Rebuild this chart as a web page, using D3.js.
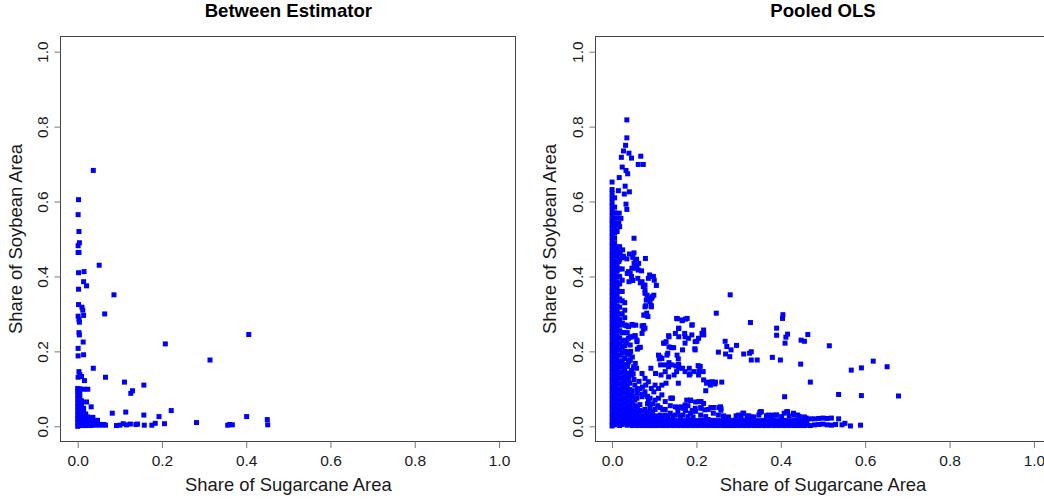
<!DOCTYPE html>
<html><head><meta charset="utf-8">
<script src="https://cdn.jsdelivr.net/npm/d3@7"></script>
<style>body{margin:0;background:#fff}svg{display:block}text{font-family:"Liberation Sans",Arial,sans-serif}</style>
</head><body><svg id="c" width="1044" height="499"></svg>
<script>
const tickValues = [0, 0.2, 0.4, 0.6, 0.8, 1.0];
const tickLabels = ["0.0", "0.2", "0.4", "0.6", "0.8", "1.0"];
const panelTitles = ["Between Estimator", "Pooled OLS"];
const xTitle = "Share of Sugarcane Area";
const yTitle = "Share of Soybean Area";

// Between estimator: scattered points
const betweenScatter = [
[0.037,0.683],[0.002,0.605],[0.001,0.565],[0.003,0.520],[0.004,0.490],[0.001,0.482],[0.001,0.464],[0.003,0.464],
[0.051,0.430],[0.015,0.413],[0.002,0.410],[0.014,0.386],[0.021,0.375],[0.002,0.366],[0.086,0.351],[0.002,0.325],
[0.010,0.318],[0.012,0.310],[0.064,0.300],[0.014,0.296],[0.001,0.294],[0.003,0.285],[0.004,0.278],[0.003,0.250],
[0.004,0.244],[0.013,0.225],[0.208,0.220],[0.406,0.245],[0.001,0.208],[0.014,0.191],[0.001,0.188],[0.314,0.177],
[0.037,0.155],[0.003,0.146],[0.005,0.138],[0.009,0.133],[0.001,0.131],[0.066,0.131],[0.016,0.122],[0.111,0.118],
[0.157,0.110],[0.130,0.095],[0.126,0.088],[0.015,0.099],[0.024,0.099],[0.021,0.065],[0.032,0.052],[0.082,0.035],
[0.114,0.038],[0.157,0.030],[0.222,0.042],[0.193,0.026],[0.401,0.026],[0.450,0.018],[0.451,0.004],[0.282,0.010],
[0.356,0.003],[0.361,0.005],[0.367,0.004],[0.206,0.007],[0.184,0.008],[0.176,0.003],[0.158,0.003],[0.138,0.005],
[0.142,0.006],[0.125,0.006],[0.116,0.004],[0.108,0.007],[0.100,0.003],[0.092,0.002],[0.062,0.005],[0.054,0.005]
];
// Between estimator: dense cluster near the origin
const betweenCluster = [
[0,0.000],[0,0.010],[0,0.020],[0,0.030],[0,0.041],[0,0.052],[0,0.062],[0,0.073],[0,0.083],[0,0.094],[0,0.101],
[0.005,0.003],[0.005,0.014],[0.005,0.025],[0.005,0.036],[0.005,0.047],[0.005,0.058],[0.005,0.069],[0.005,0.080],[0.005,0.091],[0.005,0.100],
[0.009,0.002],[0.009,0.013],[0.009,0.024],[0.009,0.035],[0.009,0.046],[0.009,0.057],[0.009,0.068],
[0.014,0.004],[0.014,0.015],[0.014,0.026],[0.014,0.037],[0.014,0.048],
[0.019,0.002],[0.019,0.012],[0.019,0.023],[0.019,0.033],
[0.024,0.003],[0.024,0.014],[0.024,0.025],
[0.030,0.002],[0.030,0.012],[0.030,0.022],
[0.036,0.004],[0.036,0.014],[0.036,0.024],
[0.042,0.003],[0.042,0.013],[0.047,0.005],[0.047,0.016],
[0.053,0.003],[0.060,0.004],[0.066,0.003]
];

// Pooled OLS: dense column at small sugarcane share
const pooledColumn = [
[0,0.652],[0,0.632],[0,0.622],[0,0.610],[0,0.598],[0,0.587],[0,0.575],[0,0.563],[0,0.551],[0,0.540],[0,0.528],[0,0.516],
[0,0.504],[0,0.492],[0,0.480],[0,0.468],[0,0.456],[0,0.444],[0,0.432],[0,0.420],[0,0.408],[0,0.396],[0,0.384],[0,0.372],
[0,0.360],[0,0.348],[0,0.336],[0,0.324],[0,0.312],[0,0.300],[0,0.288],[0,0.276],[0,0.264],[0,0.252],[0,0.240],[0,0.228],
[0,0.216],[0,0.204],[0,0.192],[0,0.180],[0,0.168],[0,0.156],[0,0.144],[0,0.132],[0,0.120],[0,0.108],[0,0.096],[0,0.084],
[0,0.072],[0,0.060],[0,0.048],[0,0.036],[0,0.024],[0,0.012],[0,0.001],
[0.006,0.610],[0.006,0.585],[0.006,0.570],[0.006,0.556],[0.006,0.543],[0.006,0.530],[0.006,0.517],[0.006,0.503],[0.006,0.490],
[0.006,0.478],[0.006,0.466],[0.006,0.454],[0.006,0.441],[0.006,0.429],[0.006,0.417],[0.006,0.404],[0.006,0.392],[0.006,0.380],
[0.006,0.368],[0.006,0.355],[0.006,0.343],[0.006,0.331],[0.006,0.319],[0.006,0.306],[0.006,0.294],[0.006,0.282],[0.006,0.270],
[0.006,0.258],[0.006,0.245],[0.006,0.233],[0.006,0.221],[0.006,0.209],[0.006,0.197],[0.006,0.185],[0.006,0.172],[0.006,0.160],
[0.006,0.148],[0.006,0.136],[0.006,0.124],[0.006,0.112],[0.006,0.100],[0.006,0.088],[0.006,0.076],[0.006,0.064],[0.006,0.052],
[0.006,0.040],[0.006,0.028],[0.006,0.016],[0.006,0.004],
[0.012,0.556],[0.012,0.540],[0.012,0.520],[0.012,0.470],[0.012,0.455],[0.012,0.440],[0.012,0.428],[0.012,0.414],[0.012,0.400],
[0.012,0.386],[0.012,0.373],[0.012,0.360],[0.012,0.347],[0.012,0.334],[0.012,0.320],[0.012,0.307],[0.012,0.294],[0.012,0.281],
[0.012,0.268],[0.012,0.255],[0.012,0.242],[0.012,0.229],[0.012,0.216],[0.012,0.203],[0.012,0.190],[0.012,0.177],[0.012,0.164],
[0.012,0.151],[0.012,0.138],[0.012,0.125],[0.012,0.112],[0.012,0.099],[0.012,0.086],[0.012,0.073],[0.012,0.060],[0.012,0.047],
[0.012,0.034],[0.012,0.021],[0.012,0.008],
[0.018,0.533],[0.018,0.479],[0.018,0.462],[0.018,0.445],[0.018,0.420],[0.018,0.400],[0.018,0.380],[0.018,0.360],[0.018,0.340],
[0.018,0.318],[0.018,0.300],[0.018,0.285],[0.018,0.270],[0.018,0.255],[0.018,0.236],[0.018,0.220],[0.018,0.205],[0.018,0.190],
[0.018,0.172],[0.018,0.158],[0.018,0.143],[0.018,0.128],[0.018,0.113],[0.018,0.098],[0.018,0.084],[0.018,0.070],[0.018,0.056],
[0.018,0.042],[0.018,0.028],[0.018,0.014],[0.018,0.002],
[0.024,0.450],[0.024,0.420],[0.024,0.390],[0.024,0.360],[0.024,0.335],[0.024,0.300],[0.024,0.275],[0.024,0.250],[0.024,0.228],
[0.024,0.212],[0.024,0.195],[0.024,0.175],[0.024,0.160],[0.024,0.145],[0.024,0.130],[0.024,0.116],[0.024,0.102],[0.024,0.088],
[0.024,0.074],[0.024,0.060],[0.024,0.046],[0.024,0.032],[0.024,0.018],[0.024,0.005],
[0.030,0.330],[0.030,0.310],[0.030,0.290],[0.030,0.270],[0.030,0.250],[0.030,0.230],[0.030,0.215],[0.030,0.200],[0.030,0.181],
[0.030,0.165],[0.030,0.150],[0.030,0.135],[0.030,0.118],[0.030,0.104],[0.030,0.090],[0.030,0.076],[0.030,0.062],[0.030,0.048],
[0.030,0.035],[0.030,0.022],[0.030,0.009],
[0.036,0.250],[0.036,0.195],[0.036,0.160],[0.036,0.141],[0.036,0.124],[0.036,0.108],[0.036,0.095],[0.036,0.082],[0.036,0.068],
[0.036,0.055],[0.036,0.042],[0.036,0.029],[0.036,0.016],[0.036,0.003],
[0.042,0.177],[0.042,0.142],[0.042,0.115],[0.042,0.098],[0.042,0.084],[0.042,0.070],[0.042,0.057],[0.042,0.044],[0.042,0.031],
[0.042,0.018],[0.042,0.005],[0.044,0.200],[0.048,0.185],[0.046,0.150],[0.050,0.140],[0.048,0.095],[0.054,0.110],[0.060,0.088],
[0.066,0.100],[0.052,0.125],[0.064,0.120],[0.072,0.105],[0.078,0.092],[0.084,0.080],[0.090,0.075],[0.080,0.110],[0.096,0.060],
[0.108,0.055],[0.120,0.045]
];

// Pooled OLS: dense band at small soybean share
const pooledBand = [
[0.048,0.002],[0.048,0.014],[0.048,0.026],[0.048,0.038],[0.048,0.050],[0.048,0.065],[0.048,0.080],
[0.054,0.004],[0.054,0.016],[0.054,0.028],[0.054,0.040],[0.054,0.055],[0.054,0.070],
[0.060,0.002],[0.060,0.014],[0.060,0.026],[0.060,0.038],[0.060,0.052],[0.060,0.100],
[0.066,0.004],[0.066,0.016],[0.066,0.028],[0.066,0.042],[0.066,0.058],
[0.072,0.002],[0.072,0.014],[0.072,0.026],[0.072,0.040],[0.072,0.085],
[0.078,0.003],[0.078,0.015],[0.078,0.028],[0.078,0.045],
[0.084,0.002],[0.084,0.014],[0.084,0.026],[0.084,0.038],[0.084,0.060],
[0.090,0.004],[0.090,0.016],[0.090,0.030],[0.090,0.050],
[0.096,0.002],[0.096,0.014],[0.096,0.026],[0.096,0.040],
[0.102,0.003],[0.102,0.015],[0.102,0.028],[0.102,0.045],[0.102,0.070],
[0.108,0.002],[0.108,0.014],[0.108,0.026],
[0.114,0.004],[0.114,0.016],[0.114,0.030],[0.114,0.050],
[0.120,0.002],[0.120,0.014],[0.120,0.027],
[0.126,0.003],[0.126,0.015],[0.126,0.030],[0.126,0.045],
[0.132,0.002],[0.132,0.014],[0.132,0.026],
[0.138,0.004],[0.138,0.016],[0.138,0.035],[0.138,0.055],
[0.144,0.002],[0.144,0.014],[0.144,0.026],
[0.150,0.003],[0.150,0.015],[0.150,0.030],
[0.156,0.002],[0.156,0.014],[0.156,0.040],
[0.162,0.004],[0.162,0.016],[0.162,0.028],[0.162,0.050],
[0.168,0.002],[0.168,0.014],[0.168,0.030],
[0.174,0.003],[0.174,0.015],[0.174,0.042],
[0.180,0.002],[0.180,0.014],[0.180,0.026],[0.180,0.055],
[0.186,0.004],[0.186,0.016],[0.186,0.035],
[0.192,0.002],[0.192,0.014],[0.192,0.025],
[0.198,0.003],[0.198,0.015],[0.198,0.040],[0.198,0.065],
[0.204,0.002],[0.204,0.014],
[0.210,0.004],[0.210,0.016],[0.210,0.030],[0.210,0.050],
[0.216,0.002],[0.216,0.014],
[0.222,0.003],[0.222,0.015],[0.222,0.026],
[0.228,0.002],[0.228,0.018],[0.228,0.045],
[0.234,0.004],[0.234,0.014],
[0.240,0.002],[0.240,0.016],[0.240,0.035],[0.240,0.050],
[0.246,0.003],[0.246,0.014],
[0.252,0.002],[0.252,0.015],[0.252,0.030],
[0.258,0.004],[0.258,0.014],[0.258,0.048],
[0.264,0.002],[0.264,0.016],[0.264,0.028],
[0.270,0.003],[0.270,0.014],
[0.276,0.002],[0.276,0.015],[0.276,0.025],
[0.282,0.004],[0.282,0.014],
[0.288,0.002],[0.288,0.016],
[0.294,0.003],[0.294,0.014],[0.294,0.028],
[0.300,0.002],[0.300,0.015],
[0.306,0.004],[0.306,0.014],[0.306,0.025],
[0.312,0.002],[0.312,0.016],[0.312,0.035],
[0.318,0.003],[0.318,0.014],
[0.324,0.002],[0.324,0.015],[0.324,0.028],
[0.330,0.004],[0.330,0.014],
[0.336,0.002],[0.336,0.016],[0.336,0.025],
[0.342,0.003],[0.342,0.014],
[0.348,0.002],[0.348,0.015],[0.348,0.030],
[0.354,0.004],[0.354,0.014],[0.354,0.039],
[0.360,0.002],[0.360,0.016],
[0.366,0.003],[0.366,0.014],[0.366,0.028],
[0.372,0.002],[0.372,0.015],
[0.378,0.004],[0.378,0.014],[0.378,0.026],
[0.384,0.002],[0.384,0.016],
[0.390,0.003],[0.390,0.014],[0.390,0.030],
[0.396,0.002],[0.396,0.015],
[0.402,0.004],[0.402,0.014],[0.402,0.026],
[0.408,0.002],[0.408,0.016],[0.408,0.035],
[0.414,0.003],[0.414,0.014],[0.414,0.039],
[0.420,0.002],[0.420,0.015],[0.420,0.028],
[0.426,0.004],[0.426,0.014],
[0.432,0.002],[0.432,0.016],[0.432,0.030],
[0.438,0.003],[0.438,0.014],
[0.444,0.002],[0.444,0.015],[0.444,0.026],
[0.450,0.004],[0.450,0.014],
[0.456,0.002],[0.456,0.016],[0.456,0.025],
[0.462,0.003],[0.462,0.014],
[0.470,0.002],[0.470,0.020],[0.480,0.004],[0.480,0.020],[0.490,0.005],[0.490,0.021],
[0.500,0.006],[0.500,0.022],[0.510,0.004],[0.510,0.021],[0.520,0.003],[0.520,0.022],
[0.530,0.005],[0.537,0.020],[0.545,0.004],[0.552,0.008],[0.565,0.001],[0.589,0.003]
];

// Pooled OLS: scattered points
const pooledScatter = [
[0.035,0.818],[0.035,0.770],[0.032,0.750],[0.027,0.735],[0.040,0.729],[0.046,0.716],[0.022,0.718],[0.068,0.721],
[0.062,0.699],[0.074,0.699],[0.024,0.692],[0.033,0.683],[0.037,0.674],[0.017,0.664],[0.031,0.641],[0.015,0.629],
[0.041,0.626],[0.029,0.620],[0.033,0.593],[0.035,0.579],[0.052,0.502],[0.017,0.569],[0.021,0.555],[0.016,0.542],
[0.019,0.465],[0.027,0.454],[0.035,0.447],[0.016,0.440],
[0.017,0.479],[0.025,0.471],[0.041,0.460],[0.052,0.463],[0.049,0.451],[0.055,0.444],[0.052,0.435],[0.059,0.428],
[0.054,0.422],[0.036,0.408],[0.043,0.408],[0.046,0.400],[0.040,0.386],[0.049,0.389],[0.070,0.415],[0.079,0.448],
[0.058,0.446],[0.063,0.435],[0.058,0.426],[0.039,0.413],[0.047,0.422],[0.062,0.417],[0.061,0.395],[0.048,0.390],
[0.071,0.386],[0.078,0.377],[0.086,0.395],[0.094,0.400],[0.100,0.390],[0.078,0.364],[0.083,0.350],[0.086,0.342],
[0.094,0.342],[0.099,0.350],[0.093,0.322],[0.080,0.322],[0.078,0.297],[0.085,0.293],
[0.067,0.383],[0.074,0.373],[0.078,0.355],[0.081,0.337],[0.078,0.319],[0.082,0.302],[0.095,0.346],[0.090,0.333],
[0.093,0.319],[0.089,0.404],[0.098,0.400],[0.105,0.376],[0.075,0.297],
[0.024,0.275],[0.035,0.268],[0.049,0.270],[0.071,0.268],[0.074,0.259],[0.033,0.270],[0.039,0.266],[0.047,0.272],
[0.056,0.270],[0.075,0.269],[0.078,0.262],[0.071,0.248],
[0.043,0.238],[0.052,0.241],[0.059,0.230],[0.035,0.222],[0.067,0.211],[0.060,0.206],[0.039,0.235],[0.047,0.239],
[0.055,0.242],[0.059,0.226],[0.064,0.210],[0.043,0.217],[0.036,0.199],[0.042,0.192],[0.039,0.172],[0.036,0.164],
[0.055,0.168],[0.058,0.155],[0.047,0.137],[0.039,0.128],
[0.036,0.195],[0.030,0.181],[0.043,0.177],[0.051,0.159],[0.027,0.159],[0.039,0.141],[0.033,0.124],
[0.071,0.141],[0.078,0.128],[0.086,0.119],[0.093,0.101],[0.102,0.110],[0.110,0.101],[0.118,0.110],[0.128,0.115],
[0.116,0.137],[0.126,0.146],[0.134,0.132],[0.147,0.137],[0.153,0.146],[0.158,0.164],[0.158,0.155],[0.167,0.155],
[0.173,0.146],[0.183,0.137],[0.194,0.146],[0.205,0.137],[0.216,0.146],
[0.110,0.190],[0.118,0.181],[0.115,0.164],[0.126,0.164],[0.134,0.159],[0.142,0.164],[0.132,0.195],[0.154,0.190],
[0.167,0.204],[0.173,0.222],[0.158,0.239],[0.150,0.248],[0.134,0.242],[0.128,0.226],[0.173,0.239],[0.189,0.244],
[0.197,0.226],[0.205,0.235],[0.213,0.248],[0.197,0.204],
[0.153,0.288],[0.167,0.284],[0.178,0.288],[0.189,0.270],[0.158,0.262],[0.172,0.248],[0.181,0.235],[0.217,0.244],
[0.031,0.092],[0.047,0.084],[0.059,0.075],[0.071,0.079],[0.086,0.070],[0.099,0.092],[0.110,0.075],[0.118,0.084],
[0.126,0.066],[0.142,0.075],[0.150,0.052],[0.173,0.057],[0.186,0.070],[0.197,0.048],[0.211,0.066],
[0.217,0.061],[0.177,0.070],[0.143,0.075],[0.155,0.050],[0.163,0.052],[0.170,0.048],[0.206,0.066],[0.190,0.042],
[0.195,0.042],[0.234,0.050],[0.253,0.050],[0.258,0.043],[0.211,0.048],[0.220,0.044],[0.300,0.030],[0.320,0.027],
[0.330,0.025],[0.350,0.037],[0.370,0.030],[0.380,0.030],[0.390,0.030],[0.352,0.039],[0.416,0.039],[0.430,0.035],
[0.440,0.030],[0.460,0.022],[0.257,0.052],[0.240,0.050],[0.310,0.035],
[0.247,0.302],[0.280,0.351],[0.328,0.277],[0.405,0.298],[0.404,0.288],[0.390,0.262],[0.390,0.243],[0.416,0.246],
[0.412,0.238],[0.410,0.222],[0.464,0.245],[0.448,0.230],[0.456,0.227],[0.515,0.215],[0.619,0.174],[0.652,0.159],
[0.591,0.156],[0.567,0.150],[0.447,0.166],[0.470,0.118],[0.679,0.081],[0.591,0.082],[0.537,0.085],[0.409,0.079],
[0.380,0.184],[0.399,0.177],[0.344,0.177],[0.330,0.177],[0.330,0.199],[0.326,0.195],[0.312,0.193],[0.295,0.216],
[0.282,0.204],[0.272,0.213],[0.268,0.227],[0.279,0.186],[0.269,0.193],[0.252,0.198],[0.260,0.118],[0.244,0.113],
[0.237,0.119],[0.224,0.115],[0.217,0.124],[0.222,0.095],[0.217,0.257],[0.217,0.245],[0.201,0.227],[0.196,0.207],
[0.190,0.271],[0.174,0.286],[0.166,0.282],[0.155,0.287],[0.158,0.261],[0.135,0.239],[0.122,0.222],[0.135,0.212],
[0.141,0.210],[0.146,0.210],[0.112,0.180],[0.130,0.190],[0.135,0.170],[0.157,0.180],[0.157,0.165],
[0.183,0.155],[0.185,0.140],[0.209,0.160],[0.206,0.148],[0.204,0.162],[0.152,0.161],[0.157,0.115],[0.186,0.069],
[0.139,0.075],[0.092,0.155],[0.103,0.141],[0.114,0.185],[0.124,0.222],[0.245,0.118],[0.233,0.110],[0.228,0.118]
];

const svg = d3.select("#c");
const markerSize = 5;
const yRange = [441.3, 36.7];
const panels = [
  {title: panelTitles[0], data: [betweenScatter, betweenCluster], xRange: [60.85, 515.85]},
  {title: panelTitles[1], data: [pooledColumn, pooledBand, pooledScatter], xRange: [595.2, 1050.8]}
];
const crisp = v => Math.floor(v) + 0.5;

panels.forEach(p => {
  const x = d3.scaleLinear().domain([-0.04, 1.04]).range(p.xRange);
  const y = d3.scaleLinear().domain([-0.04, 1.04]).range(yRange);
  const g = svg.append("g");
  const pts = [].concat(...p.data);
  g.selectAll("rect.pt").data(pts).enter().append("rect")
    .attr("class", "pt")
    .attr("x", d => x(d[0]) - markerSize / 2)
    .attr("y", d => y(d[1]) - markerSize / 2)
    .attr("width", markerSize).attr("height", markerSize)
    .attr("fill", "#0000ff");

  const L = crisp(p.xRange[0]), R = crisp(p.xRange[1]), T = crisp(yRange[1]), B = crisp(yRange[0]);
  g.append("rect").attr("x", L).attr("y", T).attr("width", R - L).attr("height", B - T)
    .attr("fill", "none").attr("stroke", "#444").attr("stroke-width", 1);

  // x axis
  const xAxis = d3.axisBottom(x).tickValues(tickValues).tickFormat((d, i) => tickLabels[i]).tickSize(6.5).tickPadding(7);
  const gx = g.append("g").attr("transform", `translate(0,${B})`).call(xAxis);
  gx.select(".domain").remove();
  gx.selectAll(".tick line").attr("stroke", "#777");
  gx.selectAll(".tick text").attr("font-size", "15.5px").attr("fill", "#1a1a1a")
    .attr("font-family", '"Liberation Sans",Arial,sans-serif');

  // y axis
  const yAxis = d3.axisLeft(y).tickValues(tickValues).tickFormat((d, i) => tickLabels[i]).tickSize(6).tickPadding(0);
  const gy = g.append("g").attr("transform", `translate(${L},0)`).call(yAxis);
  gy.select(".domain").remove();
  gy.selectAll(".tick line").attr("stroke", "#777");
  gy.selectAll(".tick text").attr("font-size", "15.5px").attr("fill", "#1a1a1a")
    .attr("font-family", '"Liberation Sans",Arial,sans-serif')
    .attr("x", null).attr("dy", null)
    .attr("text-anchor", "middle")
    .attr("transform", "translate(-13,0) rotate(-90)");

  const cx = (p.xRange[0] + p.xRange[1]) / 2;
  const cy = (yRange[0] + yRange[1]) / 2;
  g.append("text").attr("x", cx).attr("y", 17.3).attr("text-anchor", "middle")
    .attr("font-size", "18.6px").attr("font-weight", "bold").attr("fill", "#000").text(p.title);
  g.append("text").attr("x", cx).attr("y", 491).attr("text-anchor", "middle")
    .attr("font-size", "18.4px").attr("fill", "#1a1a1a").text(xTitle);
  g.append("text").attr("transform", `translate(${p.xRange[0] - 38.8},${cy}) rotate(-90)`)
    .attr("text-anchor", "middle").attr("font-size", "18.4px").attr("fill", "#1a1a1a").text(yTitle);
});
</script></body></html>
